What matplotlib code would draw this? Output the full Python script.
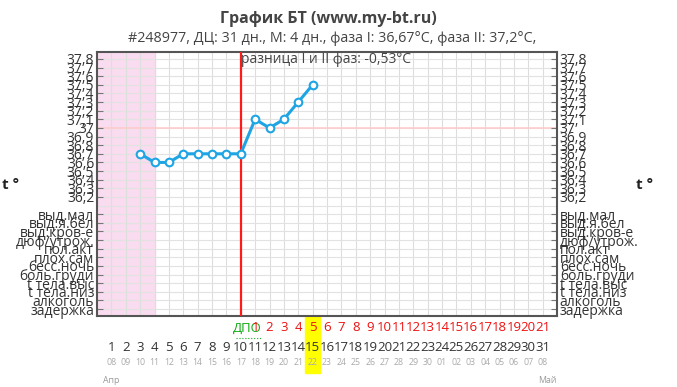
import matplotlib
matplotlib.use('Agg')
import matplotlib.pyplot as plt
from matplotlib.patches import Rectangle

plt.rcParams['font.family'] = ['Open Sans', 'DejaVu Sans']

# data
days = [3, 4, 5, 6, 7, 8, 9, 10, 11, 12, 13, 14, 15]
temps = [36.7, 36.6, 36.6, 36.7, 36.7, 36.7, 36.7, 36.7, 37.1, 37.0, 37.1, 37.3, 37.5]
cycle_len = 31
menses_days = 4
ovulation_day = 10
today = 15
dates = ['08', '09', '10', '11', '12', '13', '14', '15', '16', '17', '18', '19', '20',
         '21', '22', '23', '24', '25', '26', '27', '28', '29', '30',
         '01', '02', '03', '04', '05', '06', '07', '08']
temp_ticks = [37.8, 37.7, 37.6, 37.5, 37.4, 37.3, 37.2, 37.1, 37.0,
              36.9, 36.8, 36.7, 36.6, 36.5, 36.4, 36.3, 36.2]
symptoms = ['выд.мал', 'выд.я.бел', 'выд.кров-е', 'дюф/утрож.', 'пол.акт', 'плох.сам',
            'бесс.ночь', 'боль.груди', 't тела.выс', 't тела.низ', 'алкоголь', 'задержка']

fig = plt.figure(figsize=(6.77, 3.87), dpi=100)
ax = fig.add_axes([97 / 677, 71 / 387, 460 / 677, 264 / 387])

ax.set_xlim(0, 32)
ax.set_ylim(34.82, 37.88)

# grid
for d in range(1, 32):
    ax.axvline(d, color='#dddddd', lw=0.8, zorder=1)
y = 34.9
while y < 37.85:
    ax.axhline(y, color='#e2e2e2', lw=0.8, zorder=1)
    y += 0.1
ax.axvspan(0, menses_days, color='#f9dcef', zorder=0.5)
ax.axhline(37.0, color='#ffcccc', lw=1.2, zorder=1.5)
ax.axvline(ovulation_day, color='#ff1a1a', lw=1.6, zorder=3)

ax.plot(days, temps, color='#1fa5e3', lw=2.2, marker='o', ms=5.5,
        mfc='white', mec='#1fa5e3', mew=1.5, zorder=4)

ax.text(ovulation_day + 0.05, 37.875, 'разница I и II фаз: -0,53°C', fontsize=10,
        color='#444444', va='top', ha='left', zorder=5)

# y ticks
sym_pos = [36.0 - 0.1 * i for i in range(len(symptoms))]
tick_pos = temp_ticks + sym_pos
tick_lab = [('%.1f' % t).replace('.', ',').replace(',0', '') for t in temp_ticks] + symptoms
ax.set_yticks(tick_pos)
ax.set_yticklabels(tick_lab)
ax.set_xticks([])
ax.tick_params(axis='y', direction='in', length=4, color='#777777', labelsize=10,
               labelcolor='#333333', left=True, right=True, labelleft=True, labelright=True, pad=2)
for s in ax.spines.values():
    s.set_color('#555555')
    s.set_linewidth(1.5)

fig.text(2 / 677, 1 - 185 / 387, 't °', fontsize=11, fontweight='bold', va='center', color='#222222')
fig.text(636 / 677, 1 - 185 / 387, 't °', fontsize=11, fontweight='bold', va='center', color='#222222')

# bottom labels
tr = ax.get_xaxis_transform()
ax.add_patch(Rectangle((today - 0.5, -0.215), 1, 0.21, transform=tr, color='#ffff00',
                       clip_on=False, zorder=0))
ax.text(ovulation_day + 1.45, -0.045, 'ДПО', transform=tr, color='#11aa11', fontsize=9.5,
        ha='right', va='center', clip_on=False)
ax.plot([ovulation_day - 0.3, ovulation_day + 1.4], [-0.082, -0.082], transform=tr,
        color='#11aa11', lw=0.8, ls=':', clip_on=False)
for i in range(1, cycle_len - ovulation_day + 1):
    ax.text(ovulation_day + i, -0.045, str(i), transform=tr, color='#ee1111', fontsize=9.5,
            ha='center', va='center', clip_on=False)
for d in range(1, cycle_len + 1):
    ax.text(d, -0.12, str(d), transform=tr, color='#333333', fontsize=9.5,
            ha='center', va='center', clip_on=False)
    ax.text(d, -0.175, dates[d - 1], transform=tr, color='#aaaaaa', fontsize=6.3,
            ha='center', va='center', clip_on=False)
ax.text(0.45, -0.245, 'Апр', transform=tr, color='#999999', fontsize=6.3,
        ha='left', va='center', clip_on=False)
ax.text(30.7, -0.245, 'Май', transform=tr, color='#999999', fontsize=6.3,
        ha='left', va='center', clip_on=False)

fig.text(328 / 677, 1 - 19 / 387, 'График БТ (www.my-bt.ru)', fontsize=11.5, fontweight='bold',
         color='#444444', ha='center', va='center')
fig.text(332 / 677, 1 - 38 / 387, '#248977, ДЦ: 31 дн., М: 4 дн., фаза I: 36,67°C, фаза II: 37,2°C,',
         fontsize=10.3, color='#444444', ha='center', va='center')

fig.savefig('out.png', dpi=100)
